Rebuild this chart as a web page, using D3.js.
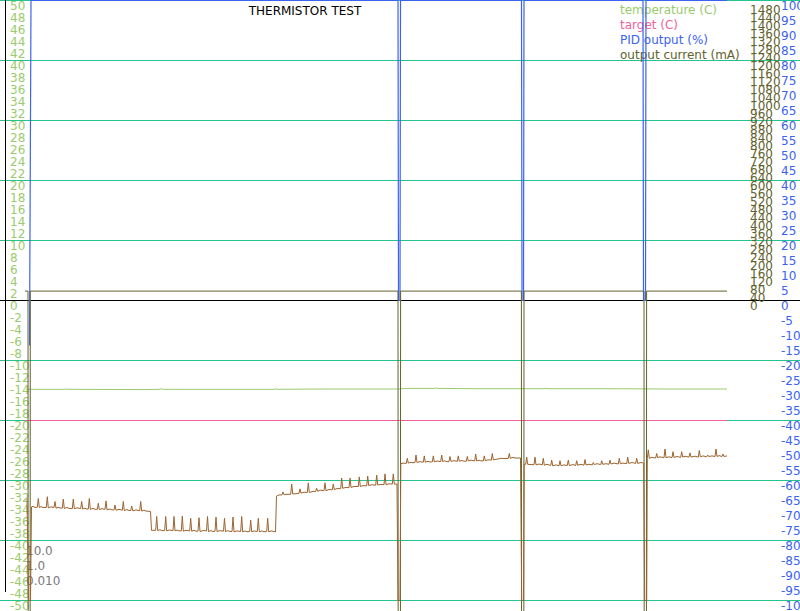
<!DOCTYPE html>
<html><head><meta charset="utf-8">
<script src="https://cdn.jsdelivr.net/npm/d3@7"></script>
<style>html,body{margin:0;padding:0;background:#fff;overflow:hidden}svg{display:block;font-family:"DejaVu Sans",sans-serif}</style>
</head><body><svg id="c" width="800" height="611"></svg>
<script>
const title = "THERMISTOR TEST";
const legendLabels = ["temperature (C)", "target (C)", "PID output (%)", "output current (mA)"];
const pidParams = ["10.0", "1.0", "0.010"];
const tempTicks = [50,48,46,44,42,40,38,36,34,32,30,28,26,24,22,20,18,16,14,12,10,8,6,4,2,0,-2,-4,-6,-8,-10,-12,-14,-16,-18,-20,-22,-24,-26,-28,-30,-32,-34,-36,-38,-40,-42,-44,-46,-48,-50];
const pidTicks = [100,95,90,85,80,75,70,65,60,55,50,45,40,35,30,25,20,15,10,5,0,-5,-10,-15,-20,-25,-30,-35,-40,-45,-50,-55,-60,-65,-70,-75,-80,-85,-90,-95,-100];
const currentTicks = [0,40,80,120,160,200,240,280,320,360,400,440,480,520,560,600,640,680,720,760,800,840,880,920,960,1000,1040,1080,1120,1160,1200,1240,1280,1320,1360,1400,1440,1480];
const gridTemps = [50,40,30,20,10,-10,-20,-30,-40,-50];

// series: [time (samples), value]
const targetPts = [[0,-20],[702,-20]];
const temperaturePts = [[2,-14.8],[40,-14.8],[41,-14.7],[42,-14.8],[120,-14.85],[135,-14.8],[136,-14.7],[137,-14.8],[180,-14.8],[250,-14.8],[251,-14.7],[252,-14.8],[300,-14.75],[374,-14.75],[380,-14.65],[410,-14.65],[411,-14.55],[412,-14.65],[450,-14.7],[520,-14.7],[521,-14.6],[522,-14.7],[580,-14.7],[640,-14.75],[702,-14.75]];
const pidPts = [[4.5,-15],[6,100],[373,100],[373.5,0],[375,0],[375.5,100],[496.5,100],[497,0],[498.5,0],[499,100],[618,100],[618.5,0],[620.5,0],[621,100],[702,100]];
const currentPts = [[0,47],[3,47],[3.3,-3000],[5,-3000],[5.3,47],[373,47],[373.3,-3000],[375.3,-3000],[375.6,47],[496.4,47],[496.7,-3000],[498.7,-3000],[499,47],[619,47],[619.3,-3000],[621.3,-3000],[621.6,47],[702,47]];
const thermistorPts = [
[2,-33.0],[3.5,-50],[5.5,-50],[6.5,-34.4],[8,-34.3],[10,-34.5],
[12.3,-34.45],[13.3,-33.0],[14.3,-34.5],[16,-34.35],[18,-34.5],
[21.3,-34.5],[22.3,-32.7],[23.3,-34.55],[26,-34.4],
[29,-34.5],[30,-33.5],[31,-34.6],[34,-34.45],[35,-34.6],
[37.3,-34.6],[38.3,-33.1],[39.3,-34.65],[42,-34.5],[44,-34.65],
[47.3,-34.7],[48.3,-33.1],[49.3,-34.7],[52,-34.55],
[55.7,-34.7],[56.7,-33.5],[57.7,-34.75],[60,-34.6],[61,-34.75],
[63.3,-34.75],[64.3,-33.0],[65.3,-34.8],[68,-34.65],[70,-34.8],
[72.3,-34.8],[73.3,-33.8],[74.3,-34.85],[77,-34.7],
[80,-34.8],[81,-33.4],[82,-34.9],[85,-34.75],[87,-34.9],
[89,-34.9],[90,-34.1],[91,-34.95],[94,-34.8],
[97.3,-34.95],[98.3,-33.5],[99.3,-35.0],[102,-34.85],[104,-35.0],
[105.7,-35.0],[106.7,-34.25],[107.7,-35.05],[111,-34.9],
[114.7,-35.05],[115.7,-33.5],[116.7,-35.1],[119,-34.95],[121,-35.1],
[125.5,-35.15],[126.5,-38.3],
[130.7,-38.3],[131.7,-36.0],[132.7,-38.35],[135,-38.2],[137,-38.35],
[139.7,-38.35],[140.7,-36.0],[141.7,-38.4],[144,-38.25],
[148,-38.35],[149,-36.0],[150,-38.4],[152,-38.25],[154,-38.4],
[156.3,-38.4],[157.3,-35.95],[158.3,-38.45],[161,-38.3],
[164.7,-38.4],[165.7,-36.3],[166.7,-38.45],[169,-38.3],[171,-38.45],
[173,-38.45],[174,-36.2],[175,-38.5],[178,-38.35],
[181.5,-38.4],[182.5,-36.0],[183.5,-38.5],[186,-38.35],[188,-38.5],
[190,-38.45],[191,-36.1],[192,-38.5],[195,-38.35],
[198.5,-38.45],[199.5,-36.3],[200.5,-38.5],[203,-38.35],[205,-38.5],
[207,-38.5],[208,-36.1],[209,-38.55],[212,-38.4],
[215.7,-38.5],[216.7,-36.0],[217.7,-38.55],[220,-38.4],[222,-38.55],
[224.7,-38.5],[225.7,-36.6],[226.7,-38.55],[229,-38.4],
[232.3,-38.5],[233.3,-36.3],[234.3,-38.55],[237,-38.4],[239,-38.55],
[241.7,-38.5],[242.7,-36.3],[243.7,-38.55],[246,-38.4],
[250.5,-38.55],[251.5,-32.6],[254,-32.4],
[257,-32.4],[258,-31.9],[259,-32.35],[262,-32.3],
[265.7,-32.3],[266.7,-30.6],[267.7,-32.25],[271,-32.2],
[274,-32.15],[275,-31.4],[276,-32.1],[279,-31.95],
[282.3,-32.0],[283.3,-30.4],[284.3,-32.0],[288,-31.8],
[290.7,-31.85],[291.7,-31.3],[292.7,-31.8],[295,-31.6],
[299,-31.7],[300,-30.4],[301,-31.7],[304,-31.5],
[307.3,-31.55],[308.3,-30.6],[309.3,-31.5],[312,-31.35],
[315.7,-31.35],[316.7,-29.6],[317.7,-31.3],[321,-31.15],
[324,-31.2],[325,-29.6],[326,-31.15],[329,-31.0],
[333.3,-31.0],[334.3,-29.4],[335.3,-31.0],[338,-30.85],
[341.7,-30.9],[342.7,-29.25],[343.7,-30.85],[347,-30.7],
[350.7,-30.8],[351.7,-29.1],[352.7,-30.75],[356,-30.65],
[359,-30.7],[360,-28.9],[361,-30.7],[364,-30.55],
[367.3,-30.6],[368.3,-28.9],[369.3,-30.6],[372,-30.6],
[373,-50],[375,-50],[375.8,-27.2],[378,-27.1],
[381.3,-27.15],[382.3,-26.3],[383.3,-27.1],[386,-26.95],[387,-27.05],
[390,-27.0],[391,-25.75],[392,-27.0],[395,-26.85],
[398.3,-26.95],[399.3,-25.9],[400.3,-26.95],[403,-26.8],[404,-26.9],
[407.3,-26.9],[408.3,-25.9],[409.3,-26.9],[412,-26.75],
[415.7,-26.85],[416.7,-25.75],[417.7,-26.85],[420,-26.7],[421,-26.85],
[424,-26.85],[425,-26.0],[426,-26.8],[429,-26.7],
[432.3,-26.8],[433.3,-25.9],[434.3,-26.8],[437,-26.65],[438,-26.75],
[441.3,-26.8],[442.3,-26.0],[443.3,-26.75],[446,-26.6],
[449.7,-26.75],[450.7,-25.6],[451.7,-26.75],[454,-26.6],[455,-26.7],
[458.3,-26.75],[459.3,-25.9],[460.3,-26.7],[463,-26.55],
[466.3,-26.6],[467.3,-25.5],[468.3,-26.55],[472,-26.45],
[476,-26.3],[480,-26.35],
[483.3,-26.3],[484.3,-25.5],[485.3,-26.3],[488,-26.15],[490,-26.25],
[495.5,-26.25],[496.7,-50],[498.5,-50],[499.2,-27.25],
[500.7,-27.3],[501.7,-26.1],[502.7,-27.3],[506,-27.35],
[509,-27.35],[510,-26.1],[511,-27.4],[514,-27.25],
[517.3,-27.4],[518.3,-26.3],[519.3,-27.45],[522,-27.3],
[525.7,-27.5],[526.7,-26.6],[527.7,-27.55],[531,-27.4],
[534,-27.55],[535,-26.7],[536,-27.55],[539,-27.4],
[542.3,-27.5],[543.3,-26.6],[544.3,-27.5],[548,-27.35],
[550.7,-27.5],[551.7,-26.7],[552.7,-27.45],[556,-27.3],
[559,-27.45],[560,-26.5],[561,-27.4],[564,-27.3],
[567.3,-27.4],[568.3,-27.0],[569.3,-27.35],[572,-27.2],
[575.7,-27.35],[576.7,-26.7],[577.7,-27.3],[581,-27.2],
[584,-27.3],[585,-26.6],[586,-27.25],[589,-27.1],
[593.3,-27.25],[594.3,-26.3],[595.3,-27.2],[598,-27.1],
[601.7,-27.2],[602.7,-26.1],[603.7,-27.15],[607,-27.0],
[610.7,-27.15],[611.7,-26.3],[612.7,-27.15],[616,-27.0],
[618.7,-27.1],[619.7,-50],[621.7,-50],[622.3,-26.3],
[623.3,-24.9],[624.3,-26.3],[627,-26.15],
[630.7,-26.25],[631.7,-25.5],[632.7,-26.2],[635,-26.05],
[639,-26.2],[640,-24.75],[641,-26.2],[644,-26.05],
[647,-26.2],[648,-25.2],[649,-26.15],[652,-26.0],
[655.7,-26.15],[656.7,-25.2],[657.7,-26.1],[660,-25.95],
[664,-26.1],[665,-25.4],[666,-26.1],[670,-25.95],
[673.3,-26.1],[674.3,-25.0],[675.3,-26.05],[678,-25.9],
[681.7,-26.05],[682.7,-25.75],[683.7,-26.0],[687,-25.9],
[690,-26.0],[691,-24.75],[692,-26.0],[694,-25.85],
[697,-26.0],[698,-25.6],[699,-26.0],[702,-25.9]
];

const colors = {temp:"#9acb6e", target:"#f0629a", pid:"#3b63f0", current:"#62622c", therm:"#9c6430", grid:"#25c48f", text:"#7a7a7a"};

const svg = d3.select("#c");
const W = 800, H = 611;
const x = d3.scaleLinear().domain([0, 702]).range([25, 727]);
const yT = d3.scaleLinear().domain([50, -50]).range([0.5, 600.5]);
const yP = d3.scaleLinear().domain([100, -100]).range([0.5, 600.5]);
const yC = d3.scaleLinear().domain([0, 1500]).range([300.5, 0.5]);

// gridlines
svg.append("g").selectAll("line").data(gridTemps).join("line")
  .attr("x1", 0).attr("x2", W).attr("y1", d => yT(d)).attr("y2", d => yT(d))
  .attr("stroke", colors.grid).attr("stroke-width", 1);
svg.append("line").attr("x1", 0).attr("x2", W).attr("y1", yT(0)).attr("y2", yT(0)).attr("stroke", "#000");
svg.append("line").attr("x1", 5.5).attr("x2", 5.5).attr("y1", 0).attr("y2", 592).attr("stroke", "#000");

// tick labels
const fs = "12px";
svg.append("g").selectAll("text").data(tempTicks).join("text")
  .attr("x", 10).attr("y", d => yT(d) + 9.5).attr("font-size", fs).attr("fill", colors.temp).text(d => d);
svg.append("g").selectAll("text").data(currentTicks).join("text")
  .attr("x", 750).attr("y", d => yC(d) + 9.5).attr("font-size", fs).attr("fill", colors.current).text(d => d);
svg.append("g").selectAll("text").data(pidTicks).join("text")
  .attr("x", 781).attr("y", d => yP(d) + 9.5).attr("font-size", fs).attr("fill", colors.pid).text(d => d);

// title, legend, params
svg.append("text").attr("x", 305).attr("y", 15).attr("text-anchor", "middle").attr("font-size", fs).attr("fill", "#000").text(title);
const legColors = [colors.temp, colors.target, colors.pid, colors.current];
svg.append("g").selectAll("text").data(legendLabels).join("text")
  .attr("x", 620).attr("y", (d, i) => 14 + i * 15).attr("font-size", fs).attr("fill", (d, i) => legColors[i]).text(d => d);
svg.append("g").selectAll("text").data(pidParams).join("text")
  .attr("x", 26).attr("y", (d, i) => 555 + i * 15).attr("font-size", fs).attr("fill", colors.text).text(d => d);

// series
const mk = ys => d3.line().x(d => x(d[0])).y(d => ys(d[1]));
svg.append("path").attr("d", mk(yT)(targetPts)).attr("fill", "none").attr("stroke", colors.target).attr("stroke-width", 1);
svg.append("path").attr("d", mk(yT)(temperaturePts)).attr("fill", "none").attr("stroke", colors.temp).attr("stroke-width", 1);
svg.append("path").attr("d", mk(yP)(pidPts)).attr("fill", "none").attr("stroke", colors.pid).attr("stroke-width", 1.2);
svg.append("path").attr("d", mk(yC)(currentPts)).attr("fill", "none").attr("stroke", colors.current).attr("stroke-width", 1);
svg.append("path").attr("d", mk(yT)(thermistorPts)).attr("fill", "none").attr("stroke", colors.therm).attr("stroke-width", 1).attr("stroke-linejoin", "round");
</script></body></html>
